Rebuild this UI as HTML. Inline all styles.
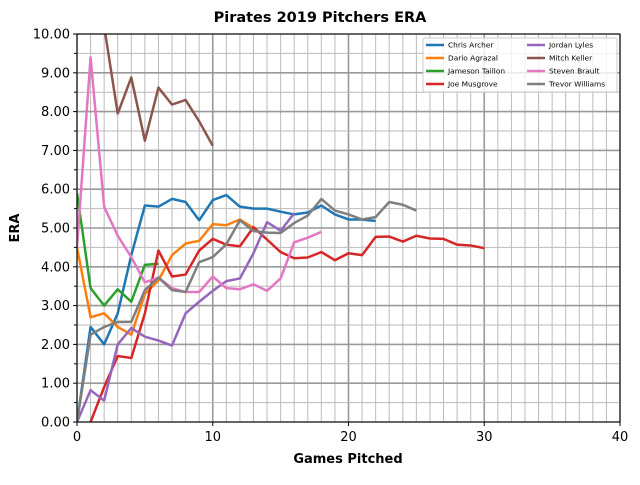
<!DOCTYPE html><html><head><style>body{margin:0;background:#fff}svg{font-family:"DejaVu Sans","Liberation Sans",sans-serif}</style></head><body>
<svg id="s" width="640" height="480" xmlns="http://www.w3.org/2000/svg">
<defs><clipPath id="c"><rect x="77" y="34" width="543" height="388"/></clipPath></defs>
<rect x="77" y="34" width="543" height="388" fill="#fff"/>
<g id="grid"></g><g id="lines" clip-path="url(#c)" fill="none" stroke-width="2.5" stroke-linejoin="round"></g>
<rect x="77" y="34" width="543" height="388" fill="none" stroke="#000" stroke-width="1"/>
<g id="ticks" font-size="13"></g>
<text x="320" y="22" text-anchor="middle" font-size="14.5" font-weight="bold">Pirates 2019 Pitchers ERA</text>
<text x="348" y="463" text-anchor="middle" font-size="13" font-weight="bold">Games Pitched</text>
<text transform="translate(19,228) rotate(-90)" text-anchor="middle" font-size="13" font-weight="bold">ERA</text>
<g id="leg" font-size="7.4"></g>
</svg>
<script>
const X=v=>77+v*13.575,Y=v=>422-v*38.8,NS="http://www.w3.org/2000/svg";
function el(p,t,a,txt){const e=document.createElementNS(NS,t);for(const k in a)e.setAttribute(k,a[k]);if(txt!=null)e.textContent=txt;document.getElementById(p).appendChild(e);return e;}
for(let i=0;i<=40;i++){const maj=i%10==0;el('grid','line',{x1:X(i),x2:X(i),y1:34,y2:422,stroke:maj?'#999':'#bbb','stroke-width':maj?1.6:1});}
for(let j=0;j<=20;j++){const v=j/2,maj=j%2==0;el('grid','line',{x1:77,x2:620,y1:Y(v),y2:Y(v),stroke:maj?'#999':'#bbb','stroke-width':maj?1.6:1});}
for(let i=0;i<=40;i+=10){el('ticks','line',{x1:X(i),x2:X(i),y1:422,y2:426,stroke:'#000'});el('ticks','text',{x:X(i),y:441,'text-anchor':'middle'},i);}
for(let j=0;j<=20;j++){const v=j/2;el('ticks','line',{x1:j%2?74:73,x2:77,y1:Y(v),y2:Y(v),stroke:'#000'});if(j%2==0)el('ticks','text',{x:70,y:Y(v)+4.5,'text-anchor':'end'},v.toFixed(2));}
const S=[
["Chris Archer","#1f77b4",0,[0,2.45,2.0,2.8,4.3,5.58,5.55,5.75,5.67,5.2,5.72,5.85,5.55,5.5,5.5,5.42,5.35,5.4,5.58,5.35,5.22,5.22,5.18]],
["Dario Agrazal","#ff7f0e",0,[4.5,2.7,2.8,2.45,2.25,3.3,3.65,4.3,4.6,4.67,5.1,5.07,5.22,5.0]],
["Jameson Taillon","#2ca02c",0,[5.9,3.45,3.0,3.42,3.1,4.05,4.08]],
["Joe Musgrove","#d62728",1,[0,0.9,1.7,1.65,2.8,4.42,3.75,3.8,4.42,4.72,4.57,4.53,5.02,4.7,4.38,4.22,4.24,4.38,4.17,4.35,4.3,4.77,4.78,4.65,4.8,4.73,4.72,4.57,4.55,4.48]],
["Jordan Lyles","#9467bd",0,[0,0.82,0.55,2.0,2.42,2.2,2.1,1.97,2.8,3.1,3.38,3.63,3.7,4.35,5.15,4.93,5.38]],
["Mitch Keller","#8c564b",1,[16,10.2,7.95,8.88,7.25,8.62,8.18,8.3,7.75,7.12]],
["Steven Brault","#e377c2",0,[4.5,9.4,5.55,4.8,4.25,3.6,3.72,3.45,3.35,3.35,3.75,3.45,3.42,3.55,3.38,3.7,4.63,4.75,4.9]],
["Trevor Williams","#7f7f7f",0,[0,2.25,2.45,2.58,2.58,3.4,3.72,3.4,3.35,4.12,4.25,4.58,5.2,4.92,4.88,4.87,5.13,5.32,5.75,5.45,5.35,5.22,5.28,5.67,5.6,5.45]]];
S.forEach((s,k)=>{el('lines','polyline',{stroke:s[1],points:s[3].map((v,i)=>X(i+s[2])+','+Y(v)).join(' ')});});
el('leg','rect',{x:423,y:38,width:194,height:54,fill:'#fff',stroke:'#ccc','fill-opacity':0.8,rx:2});
S.forEach((s,k)=>{const c=k>>2,r=k%4,lx=c?527:426,y=45+r*13;el('leg','line',{x1:lx,x2:lx+18,y1:y,y2:y,stroke:s[1],'stroke-width':2.5});el('leg','text',{x:lx+22,y:y+2.6},s[0]);});
</script></body></html>
